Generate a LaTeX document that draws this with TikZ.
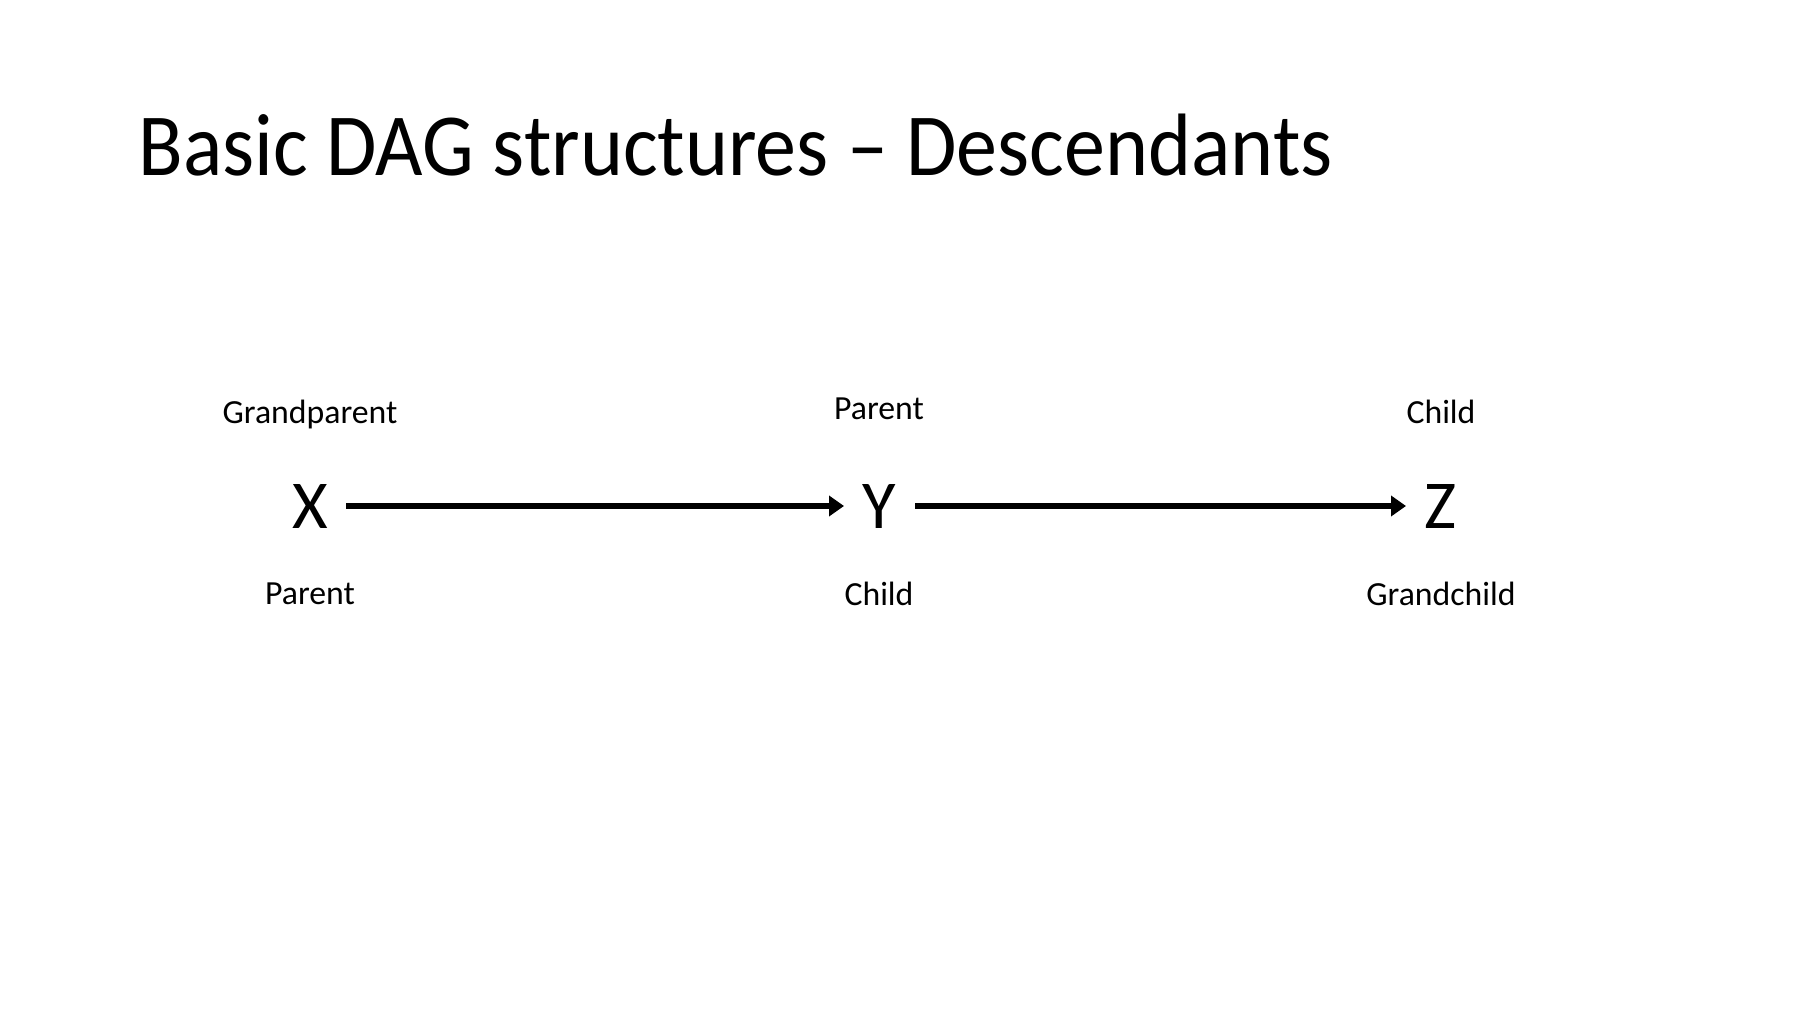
\documentclass[tikz,border=0pt]{standalone}
\usepackage{fontspec}
\setmainfont{Carlito}
\usetikzlibrary{arrows.meta}
\begin{document}
\begin{tikzpicture}[x=0.01cm,y=-0.01cm,
  var/.style={inner sep=0pt, font=\fontsize{19.5}{22}\selectfont},
  role/.style={inner sep=0pt, font=\fontsize{9.6}{11}\selectfont},
  edge/.style={line width=1.9pt, -{Triangle[length=0.15cm,width=0.2cm]}}]
\useasboundingbox[fill=white] (0,0) rectangle (1801,1013);
\node[anchor=base west, inner sep=0pt, xscale=0.925, font=\fontsize{25.2}{30}\selectfont] (title) at (138,176) {Basic DAG structures – Descendants};
\node[var] (X) at (310,507) {X};
\node[var] (Y) at (879,507) {Y};
\node[var] (Z) at (1441,507) {Z};
\node[role] (xt) at (310,415) {Grandparent};
\node[role] (yt) at (879,409) {Parent};
\node[role] (zt) at (1441,412) {Child};
\node[role] (xb) at (310,594) {Parent};
\node[role] (yb) at (879,594) {Child};
\node[role] (zb) at (1441,594) {Grandchild};
\coordinate (a1s) at (346,506);
\coordinate (a1e) at (844,506);
\coordinate (a2s) at (915,506);
\coordinate (a2e) at (1406,506);
\draw[edge] (a1s) -- (a1e);
\draw[edge] (a2s) -- (a2e);
\end{tikzpicture}
\end{document}
